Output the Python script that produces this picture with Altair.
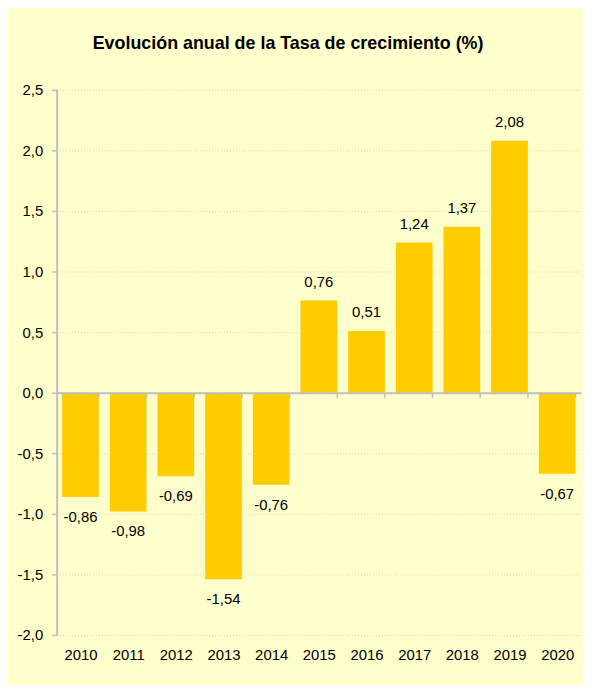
import altair as alt
import pandas as pd

years = ["2010", "2011", "2012", "2013", "2014", "2015", "2016", "2017", "2018", "2019", "2020"]
values = [-0.86, -0.98, -0.69, -1.54, -0.76, 0.76, 0.51, 1.24, 1.37, 2.08, -0.67]
y_ticks = [-2.0, -1.5, -1.0, -0.5, 0.0, 0.5, 1.0, 1.5, 2.0, 2.5]

df = pd.DataFrame({"year": years, "value": values})

FONT = "Liberation Sans"
AXIS_GRAY = "#BFBFBF"

x_enc = alt.X(
    "year:N",
    sort=years,
    scale=alt.Scale(paddingInner=0.23, paddingOuter=0.115),
    axis=alt.Axis(
        title=None,
        labelAngle=0,
        labelFont=FONT,
        labelFontSize=15,
        labelColor="#000000",
        offset=-244,
        labelPadding=252,
        tickBand="extent",
        tickSize=5,
        tickColor=AXIS_GRAY,
        tickWidth=1.5,
        domainColor=AXIS_GRAY,
        domainWidth=2,
        grid=False,
        zindex=1,
    ),
)
y_enc = alt.Y(
    "value:Q",
    scale=alt.Scale(domain=[-2.0, 2.5], nice=False, zero=False),
    axis=alt.Axis(
        title=None,
        values=y_ticks,
        labelExpr="replace(replace(format(datum.value, '.1f'), '.', ','), '\u2212', '-')",
        labelFont=FONT,
        labelFontSize=15,
        labelColor="#000000",
        labelPadding=9,
        tickSize=5,
        tickColor=AXIS_GRAY,
        tickWidth=1.5,
        domainColor=AXIS_GRAY,
        domainWidth=2,
        grid=True,
        gridColor="#CFCFCF",
        gridDash=[1, 2],
        gridWidth=1,
    ),
)

base = alt.Chart(df).encode(x=x_enc, y=y_enc).transform_calculate(
    label="replace(replace(format(datum.value, '.2f'), '.', ','), '\u2212', '-')"
)

bars = base.mark_bar(color="#FFCC00")

pos_labels = base.transform_filter("datum.value >= 0").mark_text(
    font=FONT, fontSize=15, color="#000000", baseline="middle", dy=-19
).encode(text="label:N")

neg_labels = base.transform_filter("datum.value < 0").mark_text(
    font=FONT, fontSize=15, color="#000000", baseline="middle", dy=20
).encode(text="label:N")

chart = alt.layer(bars, pos_labels, neg_labels).properties(
    width=528,
    height=549,
    title=alt.TitleParams(
        text="Evolución anual de la Tasa de crecimiento (%)",
        font=FONT,
        fontSize=18,
        fontWeight="bold",
        color="#000000",
        anchor="middle",
        dx=-31,
        offset=30,
    ),
    padding={"left": 49, "top": 80, "right": 3, "bottom": 48},
    autosize=alt.AutoSizeParams(type="none"),
).configure(background="#FFFFCC").configure_view(stroke=None)

chart.save("out.html", embed_options={"renderer": "svg", "actions": False})
